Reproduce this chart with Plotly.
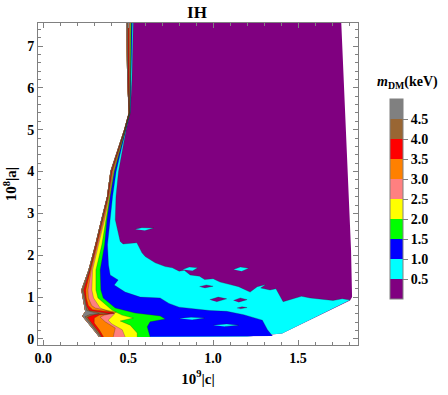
import plotly.graph_objects as go

# dark-matter mass levels (keV) and the band colours, lowest band first
levels = [0.5, 1.0, 1.5, 2.0, 2.5, 3.0, 3.5, 4.0, 4.5]
band_colors = ["#800080", "#00ffff", "#0000ff", "#00ff00", "#ffff00",
               "#ff8080", "#ff8000", "#ff0000", "#996633", "#808080"]

# y values shared by the upper part of every contour
up_y = [7.7, 6.2, 5.4, 5.0, 4.0, 3.4, 2.85, 2.25, 1.65, 1.17, 0.98]

# left edge of the allowed region, top to bottom
edge_x = [0.488, 0.494, 0.503, 0.476, 0.395, 0.375, 0.341, 0.306, 0.266, 0.224, 0.231,
          0.235, 0.247, 0.229, 0.265, 0.306, 0.329]
edge_y = up_y + [0.89, 0.65, 0.55, 0.38, 0.17, 0.05]

# bottom / right edge, from bottom-left to top-right
rim_x = [1.20, 1.30, 1.406, 1.806, 1.818, 1.812, 1.80, 1.776, 1.753]
rim_y = [0.06, 0.09, 0.13, 0.92, 1.0, 2.13, 3.33, 5.72, 7.7]

# contour m = 0.5 keV (cyan / purple)
c05_x = [0.531, 0.522, 0.512, 0.488, 0.443, 0.428, 0.424, 0.434, 0.453, 0.47,
         0.551, 0.581, 0.60, 0.659, 0.718, 0.76, 0.80, 0.83, 0.865, 0.92,
         0.95, 1.0, 1.041, 1.10, 1.15, 1.218, 1.26, 1.31, 1.28, 1.335,
         1.37, 1.412, 1.46, 1.52, 1.571, 1.64, 1.706, 1.76, 1.806]
c05_y = [7.7, 6.2, 5.4, 5.0, 4.0, 3.4, 2.85, 2.66, 2.33, 2.27,
         2.30, 2.06, 1.97, 1.82, 1.73, 1.70, 1.62, 1.64, 1.53, 1.50,
         1.42, 1.44, 1.36, 1.30, 1.25, 1.12, 1.25, 1.30, 1.22, 1.17,
         1.20, 0.89, 0.95, 1.02, 0.98, 0.94, 0.92, 0.96, 0.93]

# contour 1.0 keV (blue / cyan)
c10_x = [0.525, 0.518, 0.511, 0.486, 0.429, 0.408, 0.394, 0.378, 0.384, 0.394, 0.441, 0.418,
         0.482, 0.571, 0.688, 0.74, 0.80, 0.88, 0.98, 1.08, 1.18, 1.29, 1.32, 1.35]
c10_y = [7.7, 6.2, 5.4, 5.0, 4.0, 3.4, 2.85, 2.25, 1.77, 1.53, 1.41, 1.29,
         1.12, 1.00, 0.98, 0.85, 0.76, 0.72, 0.68, 0.66, 0.58, 0.45, 0.22, 0.07]

# contours 1.5 .. 4.5 keV
c15_x = [0.519, 0.515, 0.510, 0.484, 0.419, 0.394, 0.375, 0.361, 0.335, 0.339, 0.353,
         0.424, 0.541, 0.688, 0.718, 0.629, 0.612, 0.629]
c15_y = up_y + [0.74, 0.62, 0.55, 0.48, 0.41, 0.29, 0.05]

c20_x = [0.515, 0.512, 0.509, 0.483, 0.416, 0.391, 0.368, 0.345, 0.31, 0.31, 0.322,
         0.404, 0.463, 0.53, 0.453, 0.512, 0.553, 0.553]
c20_y = up_y + [0.69, 0.57, 0.50, 0.43, 0.33, 0.14, 0.05]

c25_x = [0.511, 0.509, 0.508, 0.482, 0.413, 0.388, 0.361, 0.325, 0.29, 0.286, 0.296,
         0.335, 0.42, 0.40, 0.382, 0.404, 0.465, 0.482]
c25_y = up_y + [0.74, 0.60, 0.52, 0.45, 0.36, 0.22, 0.05]

c30_x = [0.507, 0.506, 0.507, 0.481, 0.409, 0.385, 0.356, 0.319, 0.283, 0.263, 0.266,
         0.285, 0.306, 0.394, 0.43, 0.36, 0.335, 0.365, 0.424, 0.412]
c30_y = up_y + [0.80, 0.74, 0.67, 0.64, 0.57, 0.52, 0.41, 0.26, 0.05]

c35_x = [0.503, 0.503, 0.506, 0.48, 0.405, 0.382, 0.352, 0.315, 0.278, 0.25, 0.253,
         0.265, 0.29, 0.41, 0.42, 0.33, 0.30, 0.30, 0.33, 0.355]
c35_y = up_y + [0.80, 0.70, 0.64, 0.61, 0.57, 0.50, 0.38, 0.22, 0.05]

c40_x = [0.499, 0.5, 0.505, 0.479, 0.401, 0.379, 0.348, 0.312, 0.274, 0.238, 0.247,
         0.255, 0.27, 0.36, 0.39, 0.30, 0.26, 0.285, 0.325, 0.345]
c40_y = up_y + [0.80, 0.68, 0.64, 0.61, 0.58, 0.52, 0.38, 0.18, 0.05]

c45_x = [0.494, 0.497, 0.504, 0.478, 0.398, 0.377, 0.344, 0.309, 0.27, 0.229, 0.24,
         0.25, 0.256, 0.30, 0.33, 0.27, 0.245, 0.275, 0.315, 0.338]
c45_y = up_y + [0.80, 0.68, 0.63, 0.61, 0.58, 0.53, 0.38, 0.17, 0.05]

# small islands: (x, y, band index)
islands = [
    ([0.54, 0.58, 0.65, 0.60], [2.62, 2.66, 2.65, 2.59], 1),
    ([0.82, 0.86, 0.91, 0.88], [1.66, 1.72, 1.70, 1.63], 1),
    ([1.12, 1.16, 1.21, 1.17], [1.66, 1.72, 1.69, 1.62], 1),
    ([0.98, 1.03, 1.08, 1.02], [0.94, 1.00, 0.96, 0.89], 0),
    ([1.12, 1.16, 1.20, 1.15], [0.92, 0.98, 0.94, 0.88], 0),
    ([0.92, 0.96, 1.00, 0.95], [1.25, 1.29, 1.26, 1.22], 0),
    ([1.14, 1.17, 1.20, 1.16], [0.74, 0.77, 0.75, 0.72], 0),
]
blue_streaks = [
    ([0.80, 0.87, 0.95, 0.88], [0.49, 0.52, 0.50, 0.46]),
    ([1.00, 1.08, 1.15, 1.07], [0.33, 0.36, 0.33, 0.30]),
]

LINE = "rgba(30,30,30,0.5)"
FONT = "Liberation Serif, Times New Roman, serif"

fig = go.Figure()


def patch(xs, ys, color, lw=0):
    fig.add_trace(go.Scatter(x=xs, y=ys, mode="lines", fill="toself", fillcolor=color,
                             line=dict(width=lw, color=LINE), hoverinfo="skip",
                             showlegend=False))


# whole region purple, then cyan band
patch(edge_x + rim_x, edge_y + rim_y, band_colors[0])
patch(c05_x + rim_x[2::-1] + edge_x[::-1], c05_y + rim_y[2::-1] + edge_y[::-1], band_colors[1])
for ix, iy, b in islands:
    patch(ix, iy, band_colors[b], 0.5)
patch(c10_x + edge_x[::-1], c10_y + edge_y[::-1], band_colors[2])
for ix, iy in blue_streaks:
    patch(ix, iy, band_colors[1], 0.5)

contours = [(c15_x, c15_y), (c20_x, c20_y), (c25_x, c25_y), (c30_x, c30_y),
            (c35_x, c35_y), (c40_x, c40_y), (c45_x, c45_y)]
for i, (cx, cy) in enumerate(contours):
    patch(cx + edge_x[::-1], cy + edge_y[::-1], band_colors[i + 3])

for cx, cy in [(c05_x, c05_y), (c10_x, c10_y)] + contours:
    fig.add_trace(go.Scatter(x=cx, y=cy, mode="lines", line=dict(width=0.5, color=LINE),
                             hoverinfo="skip", showlegend=False))

# colour bar
scale = []
for i, c in enumerate(band_colors):
    scale += [[i / 10, c], [(i + 1) / 10, c]]
fig.add_trace(go.Scatter(
    x=[-5], y=[-5], mode="markers", showlegend=False, hoverinfo="skip",
    marker=dict(color=[0], cmin=0, cmax=5, colorscale=scale, showscale=True,
                colorbar=dict(x=1.1, xanchor="left", y=0.453, yanchor="middle",
                              thickness=13, lenmode="pixels", len=200,
                              xpad=0, ypad=0, outlinecolor="#808080", outlinewidth=1,
                              tickvals=levels, ticktext=["%.1f" % v for v in levels],
                              ticks="outside", ticklen=5, tickcolor="#808080",
                              tickfont=dict(family=FONT, size=14, color="black", weight="bold"))),
))

axis = dict(showline=True, linecolor="#808080", linewidth=1, mirror="ticks",
            ticks="inside", ticklen=5, tickcolor="#808080", showgrid=False, zeroline=False,
            automargin=False,
            tickfont=dict(family=FONT, size=14, color="black", weight="bold"))

fig.update_layout(
    width=448, height=395,
    margin=dict(l=38, r=90, t=23, b=50, autoexpand=False),
    plot_bgcolor="white", paper_bgcolor="white",
    font=dict(family=FONT, color="black"),
    title=dict(text="<b>IH</b>", x=197 / 448, xanchor="center", y=1 - 12.5 / 395,
               yanchor="middle", yref="container", font=dict(family=FONT, size=17)),
    xaxis=dict(axis, range=[-0.031, 1.853], tick0=0, dtick=0.5, tickformat=".1f",
               minor=dict(dtick=0.1, ticklen=3, tickcolor="#808080", ticks="inside"),
               title=dict(text="<b>10<sup>9</sup>|c|</b>", standoff=8,
                          font=dict(family=FONT, size=15))),
    yaxis=dict(axis, range=[-0.144, 7.55], tick0=0, dtick=1,
               minor=dict(dtick=0.2, ticklen=3, tickcolor="#808080", ticks="inside"),
               title=dict(text="<b>10<sup>8</sup>|a|</b>", standoff=6,
                          font=dict(family=FONT, size=15))),
    annotations=[dict(text="<b><i>m</i><sub>DM</sub>(keV)</b>", x=1.156, y=0.814,
                      xref="paper", yref="paper", xanchor="center", yanchor="middle",
                      showarrow=False, font=dict(family=FONT, size=14, color="black"))],
)

# the page body has a default 8px margin; drop it so the figure sits at the corner
fig.write_html("out.html", config={"displayModeBar": False},
               post_script="document.body.style.margin='0';")
